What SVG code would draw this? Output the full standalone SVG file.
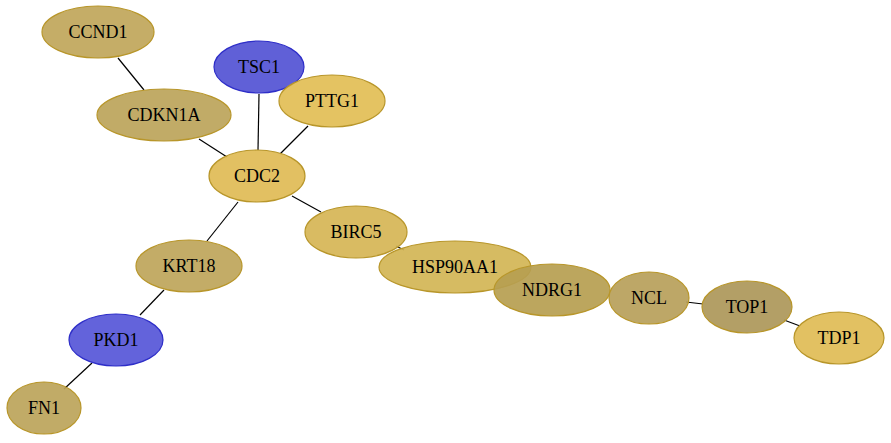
<svg xmlns="http://www.w3.org/2000/svg" width="891" height="443" viewBox="0 0 891 443">
<style>
.n ellipse{stroke-width:1.2;fill-opacity:0.92}
.g ellipse{stroke:#b8962a}
.b ellipse{stroke:#2e2ec8}
#edges line{stroke:#000;stroke-width:1.2}
</style>
<rect width="891" height="443" fill="#fff"/>
<g id="edges">
<line x1="118" y1="58" x2="144" y2="90"/>
<line x1="199" y1="139" x2="227" y2="157"/>
<line x1="259" y1="94" x2="258" y2="150"/>
<line x1="308" y1="126" x2="280" y2="154"/>
<line x1="292" y1="196" x2="321" y2="212"/>
<line x1="396" y1="246" x2="404" y2="250"/>
<line x1="686" y1="302" x2="703" y2="304"/>
<line x1="784" y1="320" x2="800" y2="326"/>
<line x1="238" y1="202" x2="207" y2="241"/>
<line x1="164" y1="290" x2="140" y2="315"/>
<line x1="92" y1="363" x2="64" y2="389"/>
</g>
<g font-family="'Liberation Serif', 'DejaVu Serif', 'Times New Roman', Times, serif" font-size="18" text-anchor="middle" fill="#000">
<g id="CCND1" class="n g"><ellipse cx="98" cy="32" rx="56" ry="26" fill="#c0a65a"/><text x="98" y="38">CCND1</text></g>
<g id="TSC1" class="n b"><ellipse cx="259" cy="67" rx="45" ry="26" fill="#5252d4"/><text x="259" y="73">TSC1</text></g>
<g id="PTTG1" class="n g"><ellipse cx="332" cy="101" rx="53" ry="26" fill="#e2be55"/><text x="332" y="107">PTTG1</text></g>
<g id="CDKN1A" class="n g"><ellipse cx="164" cy="115" rx="67" ry="26" fill="#bca45a"/><text x="164" y="121">CDKN1A</text></g>
<g id="CDC2" class="n g"><ellipse cx="257" cy="176" rx="48" ry="26" fill="#e0bb55"/><text x="257" y="182">CDC2</text></g>
<g id="BIRC5" class="n g"><ellipse cx="356" cy="232" rx="51" ry="26" fill="#d6b555"/><text x="356" y="238">BIRC5</text></g>
<g id="HSP90AA1" class="n g"><ellipse cx="455" cy="267" rx="76" ry="26" fill="#d2b555" fill-opacity="0.9"/><text x="455" y="273">HSP90AA1</text></g>
<g id="NDRG1" class="n g"><ellipse cx="552" cy="290" rx="58" ry="26" fill="#b69e50" fill-opacity="0.85"/><text x="552" y="296">NDRG1</text></g>
<g id="NCL" class="n g"><ellipse cx="649" cy="298" rx="40" ry="26" fill="#b79f5a"/><text x="649" y="304">NCL</text></g>
<g id="TOP1" class="n g"><ellipse cx="747" cy="307" rx="45" ry="26" fill="#ac9759"/><text x="747" y="313">TOP1</text></g>
<g id="TDP1" class="n g"><ellipse cx="839" cy="338" rx="45" ry="26" fill="#dfbc55"/><text x="839" y="344">TDP1</text></g>
<g id="KRT18" class="n g"><ellipse cx="189" cy="266" rx="53" ry="26" fill="#bea55a"/><text x="189" y="272">KRT18</text></g>
<g id="PKD1" class="n b"><ellipse cx="116" cy="340" rx="47" ry="26" fill="#5656d8"/><text x="116" y="346">PKD1</text></g>
<g id="FN1" class="n g"><ellipse cx="44" cy="408" rx="37" ry="26" fill="#bca45a"/><text x="44" y="414">FN1</text></g>
</g>
</svg>
